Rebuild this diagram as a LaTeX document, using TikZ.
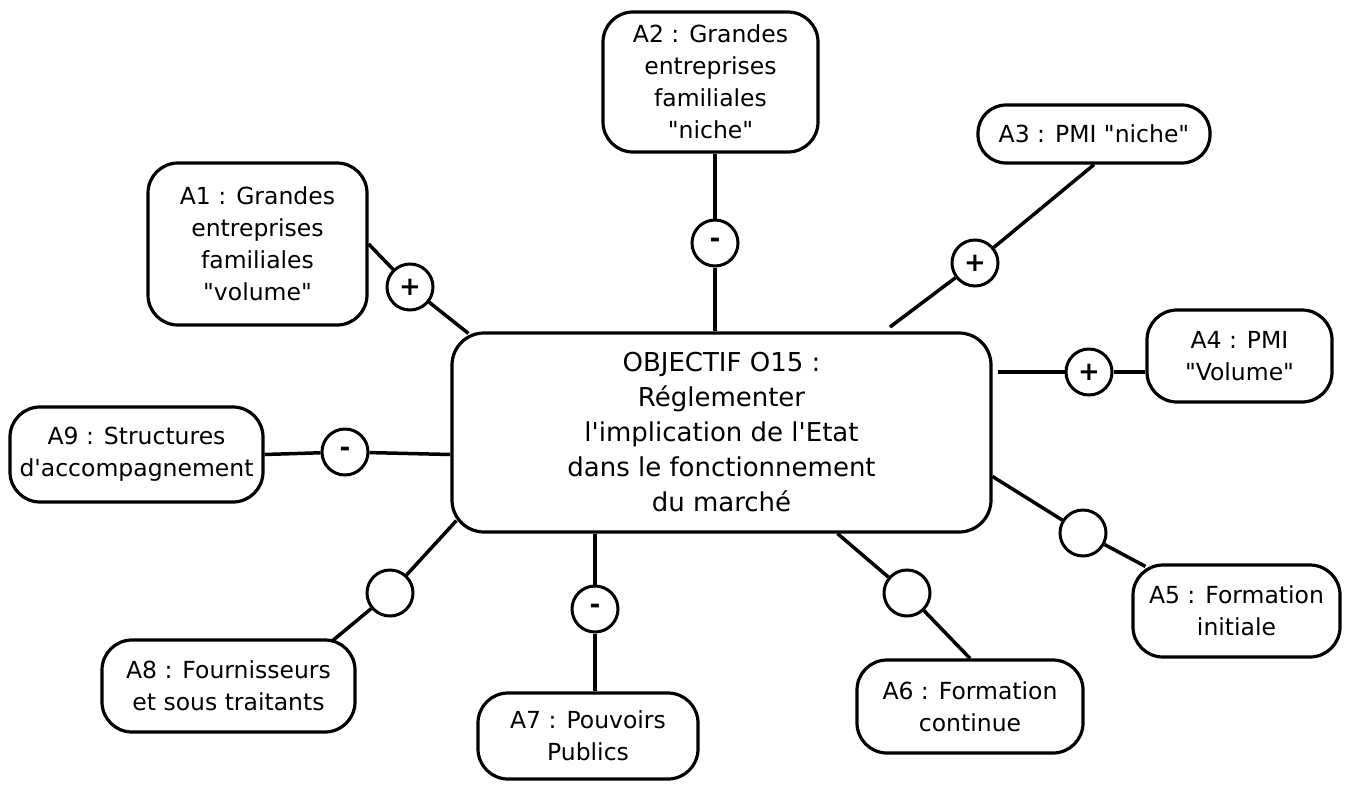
\documentclass[tikz,border=0pt]{standalone}
\usepackage{fontspec}
\newfontfamily\diagfont{DejaVu Sans}
\begin{document}
\begin{tikzpicture}[x=1pt,y=-1pt,
  box/.style={draw, line width=3.2pt, rounded corners=30pt, align=center,
    inner sep=0pt, font=\diagfont\fontsize{23.5}{32}\selectfont},
  goal/.style={box, rounded corners=32pt, font=\diagfont\fontsize{26}{35}\selectfont},
  sign/.style={draw, circle, line width=3pt, minimum size=46pt, inner sep=0pt,
    font=\diagfont\bfseries\fontsize{26}{26}\selectfont},
  link/.style={line width=3.5pt}]

% page
\path[use as bounding box, fill=white] (0,0) rectangle (1368,785);

% central objective
\node[goal, minimum width=539pt, minimum height=199pt] (main) at (721.5,432.5)
  {OBJECTIF O15 :\\Réglementer\\l'implication de l'Etat\\dans le fonctionnement\\du marché};

% actors
\node[box, minimum width=219pt, minimum height=162pt] (A1) at (257.5,244)
  {A1 : Grandes\\entreprises\\familiales\\"volume"};
\node[box, minimum width=215pt, minimum height=140pt] (A2) at (710.5,82)
  {A2 : Grandes\\entreprises\\familiales\\"niche"};
\node[box, rounded corners=28pt, minimum width=232pt, minimum height=58pt] (A3) at (1094,134)
  {A3 : PMI "niche"};
\node[box, minimum width=185pt, minimum height=92pt] (A4) at (1239.5,356)
  {A4 : PMI\\"Volume"};
\node[box, minimum width=207pt, minimum height=92pt] (A5) at (1236.5,611)
  {A5 : Formation\\initiale};
\node[box, minimum width=226pt, minimum height=93pt] (A6) at (970,706.5)
  {A6 : Formation\\continue};
\node[box, minimum width=220pt, minimum height=86pt] (A7) at (588,736)
  {A7 : Pouvoirs\\Publics};
\node[box, minimum width=253pt, minimum height=92pt] (A8) at (228.5,686)
  {A8 : Fournisseurs\\et sous traitants};
\node[box, minimum width=253pt, minimum height=95pt] (A9) at (136.5,454.5)
  {A9 : Structures\\d'accompagnement};

% relation markers
\node[sign] (s1) at (410,287)  {\raisebox{-7pt}{+}};
\node[sign] (s2) at (715,243)  {-};
\node[sign] (s3) at (975,263)  {\raisebox{-7pt}{+}};
\node[sign] (s4) at (1089,372) {\raisebox{-7pt}{+}};
\node[sign] (s5) at (1083,533) {};
\node[sign] (s6) at (907,593)  {};
\node[sign] (s7) at (595,609)  {\raisebox{-5pt}{-}};
\node[sign] (s8) at (390,593)  {};
\node[sign] (s9) at (345,452)  {-};

% loose ends
\coordinate (e3) at (890,327);
\coordinate (e4) at (998,372);

% links
\draw[link] (A1.east) -- (s1) -- ([shift={(18,2)}]main.north west);
\draw[link] (s2 |- A2.south) -- (s2) -- (s2 |- main.north);
\draw[link] (A3.south) -- (s3) -- (e3);
\draw[link] (e4) -- (s4) -- (s4 -| A4.west);
\draw[link] ([shift={(0,44)}]main.east) -- (s5) -- ([shift={(14,3)}]A5.north west);
\draw[link] ([shift={(116,0)}]main.south) -- (s6) -- (A6.north);
\draw[link] (s7 |- main.south) -- (s7) -- (s7 |- A7.north);
\draw[link] ([shift={(6,-13)}]main.south west) -- (s8) -- ([shift={(-25,3)}]A8.north east);
\draw[link] (A9.east) -- (s9) -- (main.west |- A9.east);
\end{tikzpicture}
\end{document}
